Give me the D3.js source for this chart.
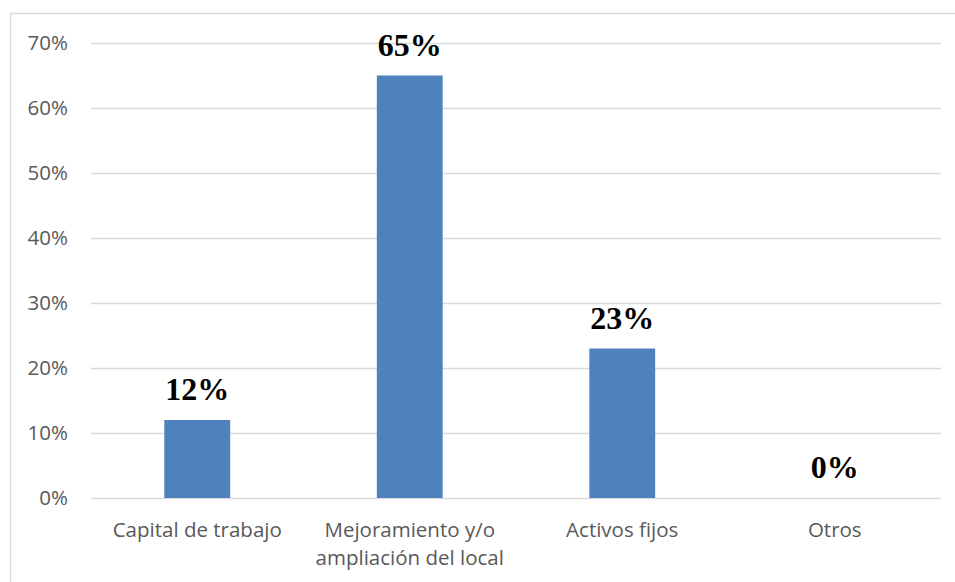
<!DOCTYPE html>
<html>
<head>
<meta charset="utf-8">
<script src="https://cdn.jsdelivr.net/npm/d3@7"></script>
<style>
  html, body { margin: 0; padding: 0; background: #fff; }
  svg { display: block; }
</style>
</head>
<body>
<svg id="chart" width="955" height="582"></svg>
<script>
// Destination of funds, share of responses
const categories = [["Capital de trabajo"], ["Mejoramiento y/o", "ampliación del local"], ["Activos fijos"], ["Otros"]];
const values = [0.12, 0.65, 0.23, 0.00];
const valueLabels = ["12%", "65%", "23%", "0%"];
const yTicks = [0, 0.1, 0.2, 0.3, 0.4, 0.5, 0.6, 0.7];

const svg = d3.select("#chart");
const W = 955, H = 582;
const margin = { left: 91, right: 14, top: 43, bottom: 84 };

// Outer frame (left and top edges visible)
svg.append("rect")
  .attr("x", 10.5).attr("y", 13.5)
  .attr("width", W + 20).attr("height", H + 20)
  .attr("fill", "none").attr("stroke", "#d9d9d9").attr("stroke-width", 1.5);

const x = d3.scaleBand()
  .domain(d3.range(categories.length))
  .range([margin.left, W - margin.right])
  .paddingInner(0.69).paddingOuter(0.345);

const y = d3.scaleLinear()
  .domain([0, 0.7])
  .range([H - margin.bottom, margin.top]);

// Gridlines
const yAxis = d3.axisLeft(y)
  .tickValues(yTicks)
  .tickFormat(d3.format(".0%"))
  .tickSize(-(W - margin.right - margin.left))
  .tickPadding(23);

const gy = svg.append("g")
  .attr("transform", `translate(${margin.left},0)`)
  .call(yAxis);
gy.select(".domain").remove();
gy.selectAll(".tick line").attr("stroke", "#d9d9d9").attr("stroke-width", 1.5);
gy.selectAll(".tick text")
  .attr("fill", "#595959")
  .style("font-family", "'Open Sans', sans-serif")
  .style("font-size", "20.5px");

// Bars
svg.append("g").selectAll("rect")
  .data(values)
  .join("rect")
  .attr("x", (d, i) => x(i))
  .attr("y", d => y(d))
  .attr("width", x.bandwidth())
  .attr("height", d => y(0) - y(d))
  .attr("fill", "#4F81BD");

// Value labels
svg.append("g").selectAll("text")
  .data(values)
  .join("text")
  .attr("x", (d, i) => x(i) + x.bandwidth() / 2)
  .attr("y", d => y(d) - 20)
  .attr("text-anchor", "middle")
  .style("font-family", "'Liberation Serif', 'Times New Roman', serif")
  .style("font-weight", "bold")
  .style("font-size", "32px")
  .attr("fill", "#000")
  .text((d, i) => valueLabels[i]);

// Category labels
const cat = svg.append("g").selectAll("text")
  .data(categories)
  .join("text")
  .attr("x", (d, i) => x(i) + x.bandwidth() / 2)
  .attr("y", 537)
  .attr("text-anchor", "middle")
  .attr("fill", "#595959")
  .style("font-family", "'Open Sans', sans-serif")
  .style("font-size", "20.5px");
cat.selectAll("tspan")
  .data(d => d)
  .join("tspan")
  .attr("x", function () { return d3.select(this.parentNode).attr("x"); })
  .attr("dy", (d, i) => i === 0 ? 0 : 28)
  .text(d => d);
</script>
</body>
</html>
